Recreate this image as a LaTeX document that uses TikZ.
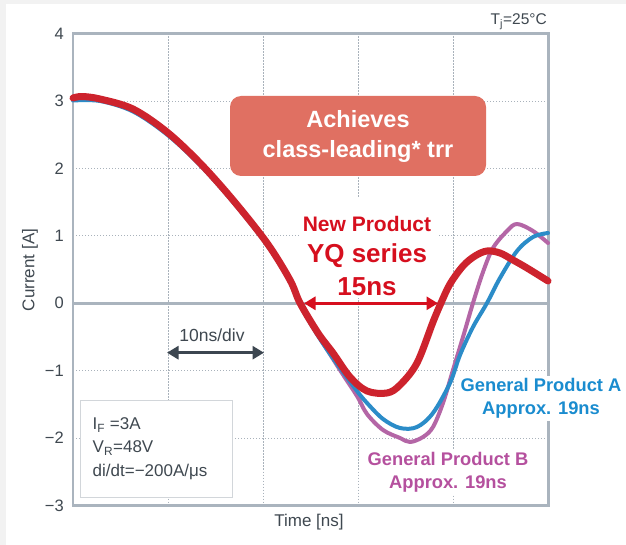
\documentclass[tikz,border=0pt]{standalone}
\usepackage{fontspec}
\setmainfont{Liberation Sans}
\usetikzlibrary{arrows.meta}
\definecolor{txtgray}{HTML}{3F4850}
\definecolor{axisgray}{HTML}{AAB4BE}
\definecolor{gridgray}{HTML}{A9B2BB}
\definecolor{boxred}{HTML}{E07062}
\definecolor{labred}{HTML}{D60F1E}
\definecolor{curvered}{HTML}{CD232D}
\definecolor{labblue}{HTML}{1A8CCF}
\definecolor{curveblue}{HTML}{2B8CC8}
\definecolor{labpurple}{HTML}{B5509E}
\definecolor{curvepurple}{HTML}{B466A6}
\definecolor{legline}{HTML}{D2D6DA}
\definecolor{framegray}{HTML}{F2F2F2}
\definecolor{arrowgray}{HTML}{3C4650}
\begin{document}
\begin{tikzpicture}[x=1pt,y=-1pt,
  gridline/.style={gridgray, line width=1.1pt, dash pattern=on 1.1pt off 1.9pt},
  axisline/.style={axisgray, line width=2.4pt},
  ticklab/.style={txtgray, font=\fontsize{16.5}{18}\selectfont, anchor=east, inner sep=0pt},
  graytext/.style={txtgray, font=\fontsize{17}{20}\selectfont},
  curve/.style={line join=round, line cap=round},
  prodlabel/.style={font=\bfseries\fontsize{18.3}{23}\selectfont, align=center, fill=white, inner sep=2pt},
  dimarrow/.style={line width=3.4pt, {Triangle[length=11.5pt,width=13pt]}-{Triangle[length=11.5pt,width=13pt]}}
]
\useasboundingbox (0,0) rectangle (626,545);
\fill[framegray] (0,0) rectangle (626,545);
\fill[white] (6,4) rectangle (626,545);

% grid
\foreach \gy in {101.1,168.5,235.9,370.7,438.1}
  \draw[gridline] (73,\gy) -- (548.5,\gy);
\foreach \gx in {168.1,263.2,358.3,453.4}
  \draw[gridline] (\gx,33.5) -- (\gx,505.5);
\draw[axisline] (73,303.3) -- (548.5,303.3);
\draw[axisline] (73,33.5) rectangle (548.5,505.5);

% tick labels
\node[ticklab] (t4) at (64,33.5) {4};
\node[ticklab] (t3) at (64,101.1) {3};
\node[ticklab] (t2) at (64,168.5) {2};
\node[ticklab] (t1) at (64,235.9) {1};
\node[ticklab] (t0) at (64,303.3) {0};
\node[ticklab] (tm1) at (64,370.7) {−1};
\node[ticklab] (tm2) at (64,438.1) {−2};
\node[ticklab] (tm3) at (64,505.5) {−3};
\node[graytext, rotate=90] (ylab) at (30,270) {Current [A]};
\node[graytext] (xlab) at (309,522) {Time [ns]};
\node[txtgray, font=\fontsize{15.5}{18}\selectfont, anchor=east, inner sep=0pt] (tj) at (547,22) {T\textsubscript{j}=25°C};

% white backgrounds / boxes
\fill[white] (300,197) rectangle (437,298);
\node[draw=legline, line width=1pt, fill=white, minimum width=152pt, minimum height=97pt, anchor=north west] (legend) at (80,399.5) {};
\node[txtgray, font=\fontsize{17}{23.3}\selectfont, align=left, anchor=west, inner sep=0pt] (legtxt) at (92.5,448.5)
  {I\textsubscript{F} =3A\\V\textsubscript{R}=48V\\di/dt=−200A/μs};
\node[graytext, font=\fontsize{17.5}{20}\selectfont, fill=white, inner sep=1pt] (div) at (212,335.5) {10ns/div};
\node[prodlabel, text=labblue] (labA) at (541,398.5) {General Product A\\Approx. 19ns};
\node[prodlabel, text=labpurple] (labB) at (448,472) {General Product B\\Approx. 19ns};

% red highlight box
\node[fill=boxred, rounded corners=11pt, minimum width=256pt, minimum height=80pt, text=white,
  font=\bfseries\fontsize{23.5}{30}\selectfont, align=center] (hl) at (358,136) {Achieves\\class-leading* trr};

% curves
\draw[curve, curvepurple, line width=4pt] plot[smooth, tension=0.55] coordinates {
 (73,99.5) (100,100) (133,110.5) (167,133.5) (200,164) (233,201) (267,244) (290,281) (300,304) (320,338)
 (340,370) (357,396) (367,414) (383,430) (400,438) (410,442) (423,437) (433,427) (443,403) (453,370)
 (463,337) (473,303) (483,272) (493,248) (507,231) (517,224) (533,231) (548,243)};
\draw[curve, curveblue, line width=4pt] plot[smooth, tension=0.55] coordinates {
 (73,100.5) (100,101) (133,111.5) (167,134.5) (200,165) (233,202) (267,245) (290,282) (300,305) (320,339)
 (340,368) (357,391) (367,403) (383,419) (400,428) (417,427) (433,413) (450,383) (460,355) (473,327)
 (487,303) (500,278) (517,251) (533,237) (548,233)};
\draw[curve, curvered, line width=7pt] plot[smooth, tension=0.55] coordinates {
 (73,98) (82,96.5) (100,99) (133,109) (167,132) (200,163) (233,200) (267,243) (290,280) (300,303) (318,333)
 (333,353) (350,377) (367,391) (387,393) (400,385) (417,363) (433,322) (441,303) (450,284) (463,266)
 (475,256) (487,251) (500,253) (513,260) (527,268) (548,281)};

% red product label
\node[text=labred, font=\bfseries\fontsize{21}{24}\selectfont, inner sep=0pt] (np) at (367,224) {New Product};
\node[text=labred, font=\bfseries\fontsize{26}{30}\selectfont, inner sep=0pt] (yq) at (367,256) {YQ series};
\node[text=labred, font=\bfseries\fontsize{26}{30}\selectfont, inner sep=0pt] (ns) at (367,287) {15ns};

% dimension arrows
\coordinate (ra) at (304,303.3);
\coordinate (rb) at (438,303.3);
\draw[dimarrow, labred] (ra) -- (rb);
\coordinate (da) at (167,352.7);
\coordinate (db) at (264,352.7);
\draw[dimarrow, arrowgray] (da) -- (db);
\end{tikzpicture}
\end{document}
